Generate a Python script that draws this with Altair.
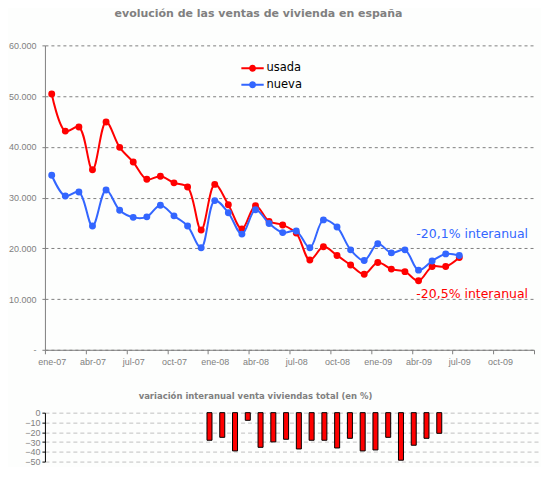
import altair as alt
import pandas as pd

# ---- data ----
MONTHS = ["2007-01", "2007-02", "2007-03", "2007-04", "2007-05", "2007-06",
          "2007-07", "2007-08", "2007-09", "2007-10", "2007-11", "2007-12",
          "2008-01", "2008-02", "2008-03", "2008-04", "2008-05", "2008-06",
          "2008-07", "2008-08", "2008-09", "2008-10", "2008-11", "2008-12",
          "2009-01", "2009-02", "2009-03", "2009-04", "2009-05", "2009-06",
          "2009-07"]
USADA = [50400, 43100, 43900, 35500, 44900, 39900, 37000, 33600, 34200, 32900,
         32100, 23600, 32600, 28600, 23800, 28400, 25300, 24600, 23000, 17700,
         20300, 18600, 16700, 14900, 17200, 15900, 15400, 13600, 16400, 16400,
         18200]
NUEVA = [34400, 30300, 31100, 24400, 31500, 27500, 26100, 26200, 28500, 26400,
         24400, 20100, 29400, 27000, 22800, 27600, 24900, 23100, 23400, 20100,
         25600, 24200, 19700, 17600, 20900, 19100, 19700, 15700, 17500, 18900,
         18600]
VAR_MONTHS = MONTHS[12:]
VARIACION = [-28.2, -25.2, -39.1, -7.8, -35.4, -29.9, -27.2, -37.1, -28.2, -28.2,
             -36.1, -26.2, -39.1, -38.1, -25.2, -48.6, -33.3, -26.2, -21.1]
TICK_LABELS = ["ene-07", "abr-07", "jul-07", "oct-07", "ene-08", "abr-08",
               "jul-08", "oct-08", "ene-09", "abr-09", "jul-09", "oct-09"]
SERIES = ["usada", "nueva"]
COLORS = ["#ff0000", "#3366ff"]
ANNOT = {"nueva": "-20,1% interanual", "usada": "-20,5% interanual"}
TITLE = "evolución de las ventas de vivienda en españa"
SUBTITLE = "variación interanual venta viviendas total (en %)"


def month_pos(m):
    y, mo = m.split("-")
    return (int(y) - 2007) * 12 + int(mo) - 1 + 0.5


rows = []
for s, vals in zip(SERIES, [USADA, NUEVA]):
    for m, v in zip(MONTHS, vals):
        rows.append({"mes": m, "pos": month_pos(m), "serie": s, "ventas": v,
                     "nota": ANNOT[s]})
df = pd.DataFrame(rows)
dvar = pd.DataFrame({"mes": VAR_MONTHS,
                     "pos": [month_pos(m) for m in VAR_MONTHS],
                     "var": VARIACION})

GRAY = "#808080"
labels_js = "[" + ",".join("'%s'" % t for t in TICK_LABELS) + "]"

x_top = alt.X("pos:Q",
              scale=alt.Scale(domain=[0, 36], nice=False, zero=False),
              axis=alt.Axis(values=list(range(0, 37, 3)),
                            labelExpr="datum.value < 36 ? %s[datum.value / 3] : ''" % labels_js,
                            labelOffset=6.8, labelFlush=False, labelOverlap=False,
                            grid=False, title=None, tickSize=4, tickColor=GRAY,
                            domainColor=GRAY, labelColor=GRAY, labelFontSize=9,
                            labelPadding=4, labelFont="Liberation Sans"))
y_top = alt.Y("ventas:Q",
              scale=alt.Scale(domain=[0, 60000], nice=False),
              axis=alt.Axis(values=list(range(0, 60001, 10000)),
                            labelExpr="datum.value == 0 ? '-\u00a0\u00a0\u00a0' : replace(format(datum.value, ','), ',', '.')",
                            grid=True, gridColor=GRAY, gridDash=[3, 3],
                            domainColor=GRAY, tickColor=GRAY, tickSize=4,
                            tickDash=[3, 3], labelColor=GRAY, labelFontSize=9,
                            labelPadding=5, labelFont="Liberation Sans", title=None))

LEG_PATH = ("M-1.6,-0.14L1.6,-0.14L1.6,0.14L-1.6,0.14Z "
            "M-0.5,0A0.5,0.5 0 1,1 0.5,0A0.5,0.5 0 1,1 -0.5,0Z")
color_enc = alt.Color("serie:N",
                      scale=alt.Scale(domain=SERIES, range=COLORS),
                      legend=alt.Legend(title=None, orient="none", legendX=201,
                                        legendY=16, symbolType=LEG_PATH,
                                        symbolSize=196, symbolStrokeWidth=0,
                                        labelOffset=7, rowPadding=3.5, padding=0,
                                        labelFontSize=11.5, labelColor="black",
                                        labelFont="DejaVu Sans"))

base = alt.Chart(df)
layers = []
for s, c in zip(SERIES, COLORS):
    sub = base.transform_filter(alt.datum.serie == s)
    layers.append(sub.mark_line(color=c, strokeWidth=2, interpolate="catmull-rom")
                  .encode(x=x_top, y=y_top))
    layers.append(sub.mark_point(filled=True, size=48, opacity=1)
                  .encode(x=x_top, y=y_top, color=color_enc))

for s, c, dy in zip(SERIES, COLORS, [37, -21]):
    layers.append(base.transform_filter((alt.datum.serie == s) & (alt.datum.mes == MONTHS[-1]))
                  .mark_text(align="left", baseline="middle", dx=-43, dy=dy,
                             color=c, fontSize=12.5, font="DejaVu Sans")
                  .encode(x=x_top, y=y_top, text="nota:N"))

top = alt.layer(*layers).properties(
    width=490, height=305,
    title=alt.TitleParams(TITLE, fontSize=11, font="DejaVu Sans", fontWeight="bold",
                          color=GRAY, offset=22, dx=-31))

bot = alt.Chart(dvar).mark_bar(size=5, color="#ff0000", stroke="black",
                               strokeWidth=1).encode(
    x=alt.X("pos:Q", scale=alt.Scale(domain=[0, 38], nice=False, zero=False), axis=None),
    y=alt.Y("var:Q", scale=alt.Scale(domain=[-50, 0], nice=False),
            axis=alt.Axis(values=[0, -10, -20, -30, -40, -50], grid=True,
                          gridColor="#c0c0c0", gridDash=[4, 3], domainColor="black",
                          tickColor="black", tickSize=3, labelColor=GRAY,
                          labelFontSize=9, labelPadding=2, labelFont="Liberation Sans",
                          title=None))
).properties(
    width=496, height=49,
    title=alt.TitleParams(SUBTITLE, fontSize=8.5, font="DejaVu Sans", fontWeight="bold",
                          color=GRAY, offset=8, dx=-37))

chart = alt.vconcat(top, bot, spacing=25).properties(
    padding={"left": 0, "top": 0, "right": 0, "bottom": 0},
    background="#fdfefd"
).configure_view(strokeOpacity=0)

chart.save("out.html", embed_options={"renderer": "svg", "actions": False})
